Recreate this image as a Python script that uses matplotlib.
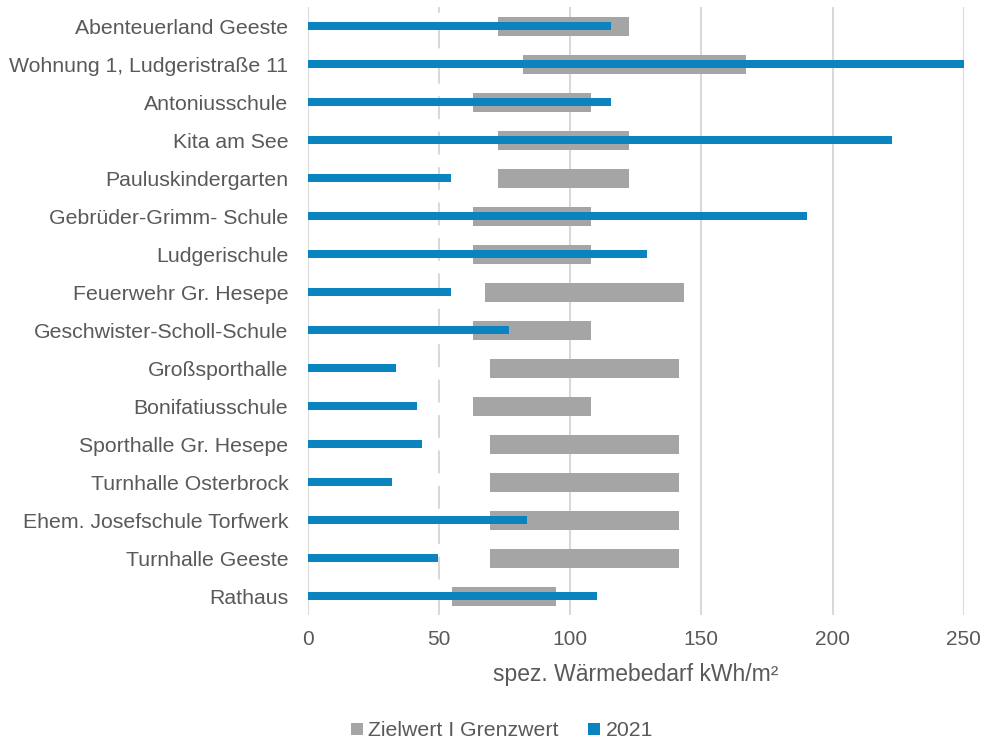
import matplotlib
matplotlib.use("Agg")
import matplotlib.pyplot as plt
from matplotlib.patches import Patch

categories = ["Abenteuerland Geeste", "Wohnung 1, Ludgeristraße 11", "Antoniusschule",
              "Kita am See", "Pauluskindergarten", "Gebrüder-Grimm- Schule", "Ludgerischule",
              "Feuerwehr Gr. Hesepe", "Geschwister-Scholl-Schule", "Großsporthalle",
              "Bonifatiusschule", "Sporthalle Gr. Hesepe", "Turnhalle Osterbrock",
              "Ehem. Josefschule Torfwerk", "Turnhalle Geeste", "Rathaus"]
zielwert = [72.5, 82, 63, 72.5, 72.5, 63, 63, 67.5, 63, 69.5, 63, 69.5, 69.5, 69.5, 69.5, 55]
grenzwert = [122.5, 167, 108, 122.5, 122.5, 108, 108, 143.5, 108, 141.5, 108, 141.5, 141.5, 141.5, 141.5, 94.5]
values_2021 = [115.5, 250, 115.5, 222.5, 54.7, 190.2, 129.4, 54.7, 76.8, 33.8, 41.8, 43.7, 32, 83.5, 49.8, 110.4]
xticks = [0, 50, 100, 150, 200, 250]

gray = "#A5A5A5"
blue = "#0A84BF"
txt = "#595959"

plt.rcParams['font.family'] = ['Liberation Sans', 'DejaVu Sans']

fig = plt.figure(figsize=(9.84, 7.44), dpi=100)
ax = fig.add_axes([307.7/984, 1-615/744, 656/984, 608/744])

y = list(range(len(categories)))
widths = [g - z for z, g in zip(zielwert, grenzwert)]
ax.barh(y, widths, left=zielwert, height=0.5, color=gray, zorder=2)
ax.barh(y, values_2021, height=0.19, color=blue, zorder=3)

ax.set_xlim(0, 250)
ax.set_ylim(len(categories) - 0.5, -0.5)
ax.set_yticks(y)
ax.set_yticklabels(categories)
ax.set_xticks(xticks)
ax.set_xticklabels([str(t) for t in xticks])

for t in xticks:
    if t == 50:
        ax.axvline(t, color="#D9D9D9", lw=1.5, ls=(0, (11, 6)), zorder=1)
    else:
        ax.axvline(t, color="#D9D9D9", lw=1.5, zorder=1)

for s in ax.spines.values():
    s.set_visible(False)

ax.tick_params(axis='y', length=0, pad=14, labelsize=15.3, labelcolor=txt)
ax.tick_params(axis='x', length=0, pad=11, labelsize=15, labelcolor=txt)
ax.set_xlabel("spez. Wärmebedarf kWh/m²", fontsize=16.5, color=txt, labelpad=10)

handles = [Patch(facecolor=gray, edgecolor='none', label="Zielwert I Grenzwert"),
           Patch(facecolor=blue, edgecolor='none', label="2021")]
fig.legend(handles=handles, loc='center', bbox_to_anchor=(502/984, 1-731/744), ncol=2,
           frameon=False, fontsize=15.3, handlelength=0.55, handleheight=0.55,
           handletextpad=0.25, columnspacing=1.4, labelcolor=txt)

fig.savefig("out.png", dpi=100)
